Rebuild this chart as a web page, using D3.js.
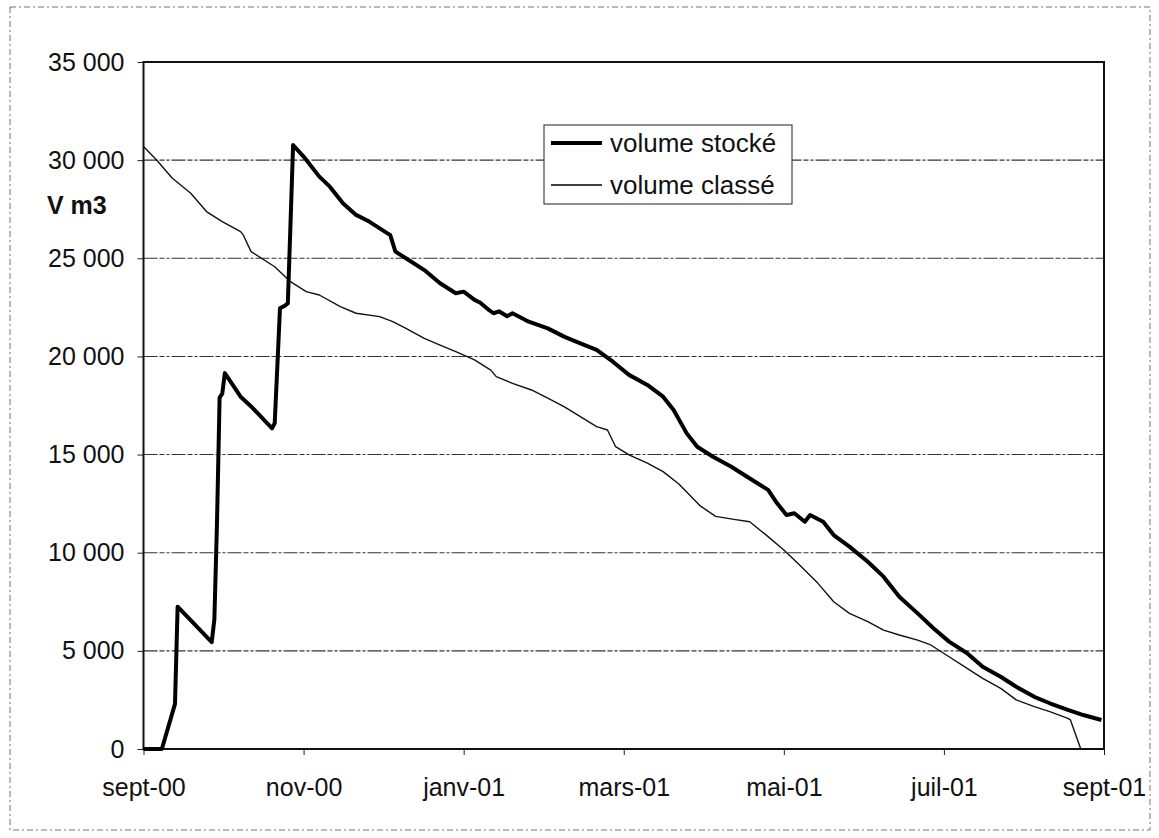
<!DOCTYPE html>
<html>
<head>
<meta charset="utf-8">
<script src="https://cdn.jsdelivr.net/npm/d3@7"></script>
<style>
  body { margin: 0; background: #fff; }
  text { font-family: "Liberation Sans", Arial, sans-serif; fill: #111; }
</style>
</head>
<body>
<svg id="chart" width="1159" height="838"></svg>
<script>
// Axis ticks (two-month steps over the hydrological year)
const tickDates  = ["2000-09-01", "2000-11-01", "2001-01-01", "2001-03-01", "2001-05-01", "2001-07-01", "2001-09-01"];
const tickLabels = ["sept-00", "nov-00", "janv-01", "mars-01", "mai-01", "juil-01", "sept-01"];
const volumeTicks = [0, 5000, 10000, 15000, 20000, 25000, 30000, 35000];

// Series 1: volume stocké (m3)
const storedDates = [
  "2000-09-01", "2000-09-08", "2000-09-13", "2000-09-14", "2000-09-27", "2000-09-28", "2000-09-29", "2000-09-30",
  "2000-10-01", "2000-10-02", "2000-10-08", "2000-10-12", "2000-10-17", "2000-10-20", "2000-10-21", "2000-10-22",
  "2000-10-23", "2000-10-25", "2000-10-26", "2000-10-27", "2000-10-28", "2000-11-01", "2000-11-07", "2000-11-11",
  "2000-11-16", "2000-11-21", "2000-11-26", "2000-12-03", "2000-12-04", "2000-12-06", "2000-12-10", "2000-12-17",
  "2000-12-23", "2000-12-29", "2001-01-01", "2001-01-05", "2001-01-07", "2001-01-10", "2001-01-12", "2001-01-14",
  "2001-01-17", "2001-01-19", "2001-01-25", "2001-02-01", "2001-02-07", "2001-02-13", "2001-02-19", "2001-02-25",
  "2001-03-03", "2001-03-10", "2001-03-16", "2001-03-20", "2001-03-25", "2001-03-29", "2001-04-04", "2001-04-11",
  "2001-04-17", "2001-04-25", "2001-04-28", "2001-05-02", "2001-05-05", "2001-05-09", "2001-05-11", "2001-05-16",
  "2001-05-20", "2001-05-26", "2001-06-02", "2001-06-08", "2001-06-14", "2001-06-21", "2001-06-27", "2001-07-03",
  "2001-07-10", "2001-07-16", "2001-07-23", "2001-07-29", "2001-08-05", "2001-08-11", "2001-08-18", "2001-08-24",
  "2001-08-31"
];
const storedVolumes = [
  0, 0, 2300, 7250, 5450, 6600, 11500, 17900,
  18100, 19150, 17950, 17450, 16760, 16340, 16600, 19500,
  22450, 22600, 22700, 26700, 30770, 30180, 29160, 28650,
  27800, 27210, 26870, 26270, 26190, 25340, 25000, 24400,
  23730, 23220, 23300, 22880, 22750, 22400, 22200, 22300,
  22050, 22200, 21770, 21430, 21010, 20670, 20330, 19730,
  19060, 18550, 17950, 17270, 16080, 15400, 14890, 14380,
  13870, 13200, 12600, 11920, 12010, 11580, 11920, 11580,
  10900, 10310, 9540, 8780, 7760, 6910, 6150, 5470,
  4880, 4190, 3680, 3170, 2660, 2330, 1990, 1730,
  1480
];

// Series 2: volume classé (m3)
const rankedDates = [
  "2000-09-01", "2000-09-06", "2000-09-12", "2000-09-19", "2000-09-25", "2000-10-01", "2000-10-08", "2000-10-09",
  "2000-10-12", "2000-10-21", "2000-10-27", "2000-11-02", "2000-11-07", "2000-11-15", "2000-11-21", "2000-11-30",
  "2000-12-05", "2000-12-10", "2000-12-17", "2000-12-23", "2000-12-29", "2001-01-05", "2001-01-11", "2001-01-13",
  "2001-01-19", "2001-01-26", "2001-02-01", "2001-02-07", "2001-02-13", "2001-02-19", "2001-02-23", "2001-02-26",
  "2001-03-03", "2001-03-10", "2001-03-16", "2001-03-22", "2001-03-30", "2001-04-05", "2001-04-12", "2001-04-18",
  "2001-04-25", "2001-05-01", "2001-05-07", "2001-05-14", "2001-05-20", "2001-05-26", "2001-06-02", "2001-06-08",
  "2001-06-14", "2001-06-21", "2001-06-26", "2001-07-03", "2001-07-10", "2001-07-16", "2001-07-23", "2001-07-29",
  "2001-08-05", "2001-08-11", "2001-08-18", "2001-08-19", "2001-08-23", "2001-08-31"
];
const rankedVolumes = [
  30700, 30010, 29080, 28310, 27380, 26870, 26360, 26190,
  25340, 24570, 23810, 23300, 23130, 22540, 22200, 22030,
  21770, 21430, 20920, 20580, 20240, 19820, 19300, 18970,
  18630, 18290, 17870, 17440, 16930, 16420, 16250, 15400,
  14980, 14560, 14130, 13500, 12400, 11850, 11700, 11580,
  10820, 10140, 9370, 8440, 7500, 6910, 6490, 6060,
  5810, 5550, 5300, 4700, 4110, 3600, 3090, 2500,
  2160, 1900, 1560, 1480, 0, 0
];

const svg = d3.select("#chart");
const plot = { left: 143.5, right: 1104, top: 62, bottom: 749 };

const parse = d3.timeParse("%Y-%m-%d");
const tickDateObjs = tickDates.map(parse);

// Month-based date axis: every two-month block gets the same width
const x = d3.scaleTime()
  .domain(tickDateObjs)
  .range(tickDateObjs.map((d, i) => plot.left + i * (plot.right - plot.left) / (tickDateObjs.length - 1)));

const y = d3.scaleLinear().domain([0, 35000]).range([plot.bottom, plot.top]);

const frLocale = d3.formatLocale({ decimal: ",", thousands: "\u00a0", grouping: [3], currency: ["", " €"] });
const fmt = frLocale.format(",");

// Outer chart frame
svg.append("rect")
  .attr("x", 10).attr("y", 7)
  .attr("width", 1140).attr("height", 823)
  .attr("fill", "none")
  .attr("stroke", "#777")
  .attr("stroke-width", 1)
  .attr("stroke-dasharray", "6,3,2,3");

// Horizontal gridlines
svg.append("g")
  .selectAll("line")
  .data(volumeTicks.filter(v => v > 0 && v < 35000))
  .join("line")
  .attr("x1", plot.left).attr("x2", plot.right)
  .attr("y1", d => y(d)).attr("y2", d => y(d))
  .attr("stroke", "#333")
  .attr("stroke-width", 1.1)
  .attr("stroke-dasharray", "14,2,5,2,3,2");

// Y axis
const yAxis = svg.append("g")
  .attr("transform", `translate(${plot.left},0)`)
  .call(d3.axisLeft(y).tickValues(volumeTicks).tickFormat(fmt).tickSize(6).tickPadding(13));
yAxis.select(".domain").remove();
yAxis.selectAll("line").attr("stroke", "#222");
yAxis.selectAll("text")
  .attr("font-size", 25)
  .attr("font-family", "'Liberation Sans', Arial, sans-serif")
  .attr("fill", "#111");

// X axis
const xAxis = svg.append("g")
  .attr("transform", `translate(0,${plot.bottom})`)
  .call(d3.axisBottom(x).tickValues(tickDateObjs).tickFormat((d, i) => tickLabels[i]).tickSize(6).tickPadding(23));
xAxis.select(".domain").remove();
xAxis.selectAll("line").attr("stroke", "#222");
xAxis.selectAll("text")
  .attr("font-size", 25)
  .attr("font-family", "'Liberation Sans', Arial, sans-serif")
  .attr("fill", "#111");

// Plot area border
svg.append("rect")
  .attr("x", plot.left).attr("y", plot.top)
  .attr("width", plot.right - plot.left).attr("height", plot.bottom - plot.top)
  .attr("fill", "none")
  .attr("stroke", "#111")
  .attr("stroke-width", 2);

// Y axis title
svg.append("text")
  .attr("x", 47).attr("y", 214)
  .attr("font-size", 25)
  .attr("font-weight", "bold")
  .text("V m3");

// Series lines
const line = d3.line()
  .x(d => x(d.date))
  .y(d => y(d.value));

const stored = storedDates.map((d, i) => ({ date: parse(d), value: storedVolumes[i] }));
const ranked = rankedDates.map((d, i) => ({ date: parse(d), value: rankedVolumes[i] }));

svg.append("path")
  .datum(ranked)
  .attr("d", line)
  .attr("fill", "none")
  .attr("stroke", "#111")
  .attr("stroke-width", 1.4)
  .attr("stroke-linejoin", "round");

svg.append("path")
  .datum(stored)
  .attr("d", line)
  .attr("fill", "none")
  .attr("stroke", "#000")
  .attr("stroke-width", 4)
  .attr("stroke-linejoin", "round");

// Legend
const legend = svg.append("g").attr("transform", "translate(544,125)");
legend.append("rect")
  .attr("width", 248).attr("height", 79)
  .attr("fill", "#fff")
  .attr("stroke", "#444")
  .attr("stroke-width", 1.2);
const legendItems = [
  { label: "volume stocké", width: 4, cy: 18 },
  { label: "volume classé", width: 1.4, cy: 60 }
];
legendItems.forEach(item => {
  legend.append("line")
    .attr("x1", 7).attr("x2", 58)
    .attr("y1", item.cy).attr("y2", item.cy)
    .attr("stroke", "#000")
    .attr("stroke-width", item.width);
  legend.append("text")
    .attr("x", 66).attr("y", item.cy + 9)
    .attr("font-size", 26)
    .text(item.label);
});
</script>
</body>
</html>
